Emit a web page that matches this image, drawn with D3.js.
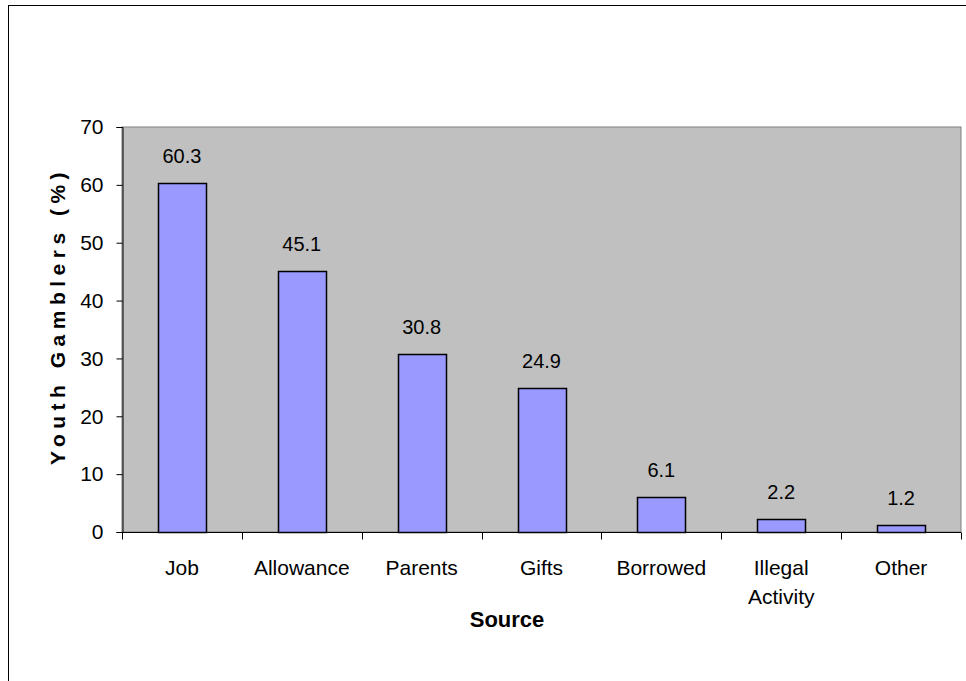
<!DOCTYPE html>
<html>
<head>
<meta charset="utf-8">
<script src="https://cdn.jsdelivr.net/npm/d3@7"></script>
<style>
  body { margin: 0; background: #fff; }
  svg { display: block; font-family: Arial, "Liberation Sans", sans-serif; }
</style>
</head>
<body>
<div id="chart"></div>
<script>
/* CHART DATA */
var categories = ['Job', 'Allowance', 'Parents', 'Gifts', 'Borrowed', 'Illegal Activity', 'Other'];
var values = [60.3, 45.1, 30.8, 24.9, 6.1, 2.2, 1.2];
var yTicks = [0, 10, 20, 30, 40, 50, 60, 70];
var xTitle = 'Source';
var yTitle = 'Youth Gamblers (%)';

var width = 966, height = 681;
var plot = { left: 122, top: 127, right: 961, bottom: 532 };

var svg = d3.select('#chart').append('svg')
  .attr('width', width)
  .attr('height', height);

/* OUTER CHART BORDER (RUNS OFF THE RIGHT AND BOTTOM) */
svg.append('rect')
  .attr('x', 8.5).attr('y', 5.5)
  .attr('width', 1000).attr('height', 700)
  .attr('fill', '#fff')
  .attr('stroke', '#000');

/* SCALES */
var x = d3.scaleBand()
  .domain(categories)
  .range([plot.left, plot.right])
  .paddingInner(0)
  .paddingOuter(0);

var y = d3.scaleLinear()
  .domain([0, 70])
  .range([plot.bottom, plot.top]);

/* PLOT AREA */
svg.append('rect')
  .attr('x', plot.left).attr('y', plot.top)
  .attr('width', plot.right - plot.left)
  .attr('height', plot.bottom - plot.top)
  .attr('fill', '#c0c0c0')
  .attr('stroke', '#808080');

/* BARS */
var barW = x.bandwidth() * 0.4;
svg.selectAll('rect.bar')
  .data(values).enter().append('rect')
  .attr('class', 'bar')
  .attr('x', function(d, i) { return Math.round(x(categories[i]) + (x.bandwidth() - barW) / 2) + 0.5; })
  .attr('y', function(d) { return Math.round(y(d)) + 0.5; })
  .attr('width', Math.round(barW))
  .attr('height', function(d) { return Math.round(y(0)) - Math.round(y(d)); })
  .attr('fill', '#9999ff')
  .attr('stroke', '#000')
  .attr('stroke-width', 1.5);

/* VALUE LABELS */
svg.selectAll('text.val')
  .data(values).enter().append('text')
  .attr('class', 'val')
  .attr('x', function(d, i) { return x(categories[i]) + x.bandwidth() / 2; })
  .attr('y', function(d) { return y(d) - 20; })
  .attr('text-anchor', 'middle')
  .attr('font-size', 20)
  .text(function(d) { return d.toFixed(1); });

/* Y AXIS */
var yAxis = svg.append('g')
  .attr('transform', 'translate(' + (plot.left + 0.5) + ',0)')
  .call(d3.axisLeft(y).tickValues(yTicks).tickSize(6).tickPadding(13));
yAxis.select('.domain').attr('stroke', '#000');
yAxis.selectAll('text').attr('font-size', 21).attr('fill', '#000')
  .attr('font-family', 'Arial, "Liberation Sans", sans-serif');

/* X AXIS: TICKS ON CATEGORY BOUNDARIES */
var xAxis = svg.append('g')
  .attr('transform', 'translate(0,' + (plot.bottom + 0.5) + ')');
xAxis.append('line')
  .attr('x1', plot.left).attr('x2', plot.right)
  .attr('stroke', '#000');
var bounds = categories.map(function(c) { return x(c); }).concat([plot.right]);
xAxis.selectAll('line.tick')
  .data(bounds).enter().append('line')
  .attr('class', 'tick')
  .attr('x1', function(d) { return Math.round(d) + 0.5; })
  .attr('x2', function(d) { return Math.round(d) + 0.5; })
  .attr('y1', 0).attr('y2', 7)
  .attr('stroke', '#000');

/* CATEGORY LABELS (WRAP TWO-WORD LABELS) */
var lines = { 'Illegal Activity': ['Illegal', 'Activity'] };
categories.forEach(function(c) {
  var t = svg.append('text')
    .attr('x', x(c) + x.bandwidth() / 2)
    .attr('y', 575)
    .attr('text-anchor', 'middle')
    .attr('font-size', 21);
  (lines[c] || [c]).forEach(function(s, i) {
    t.append('tspan')
      .attr('x', x(c) + x.bandwidth() / 2)
      .attr('dy', i ? 29 : 0)
      .text(s);
  });
});

/* AXIS TITLES */
svg.append('text')
  .attr('x', 507).attr('y', 627)
  .attr('text-anchor', 'middle')
  .attr('font-size', 22)
  .attr('font-weight', 'bold')
  .text(xTitle);

svg.append('text')
  .attr('transform', 'translate(65,316) rotate(-90)')
  .attr('text-anchor', 'middle')
  .attr('font-size', 21)
  .attr('font-weight', 'bold')
  .attr('letter-spacing', 5.5)
  .text(yTitle);
</script>
</body>
</html>
